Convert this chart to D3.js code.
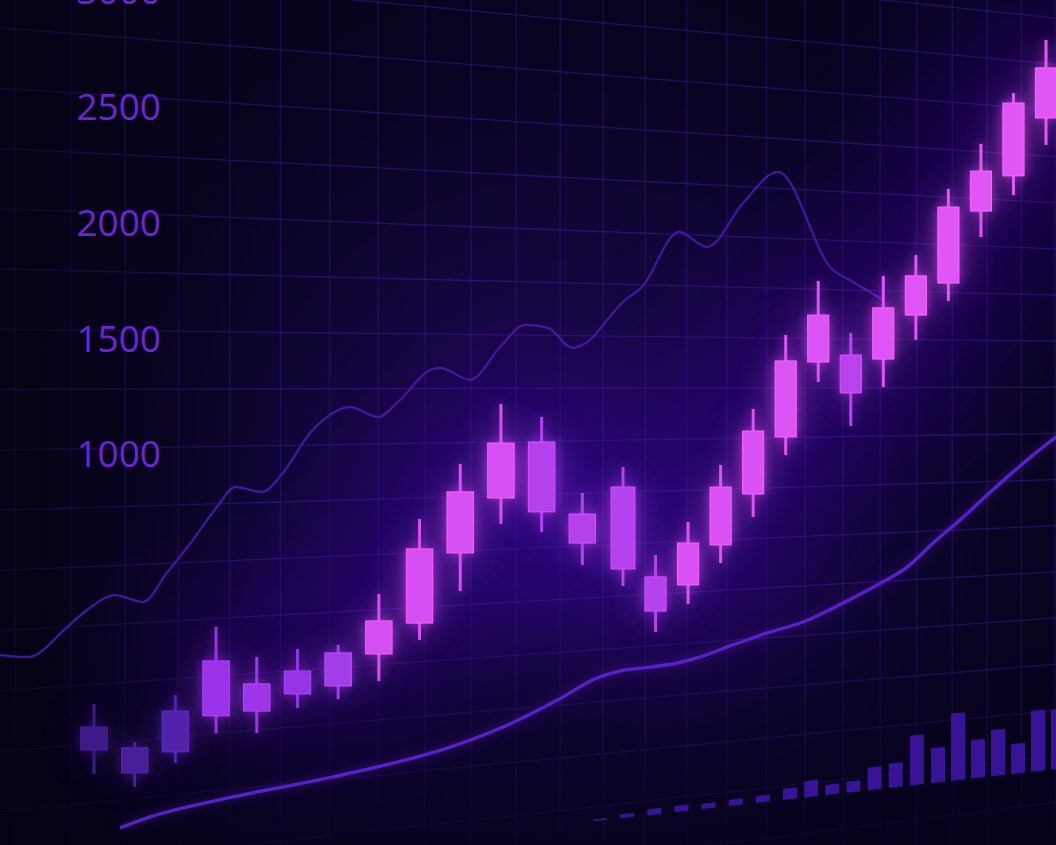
<!DOCTYPE html>
<html><head><meta charset="utf-8">
<script src="https://cdn.jsdelivr.net/npm/d3@7"></script>
<style>html,body{margin:0;padding:0;background:#07031d;overflow:hidden}</style>
</head><body><svg id="c" width="1056" height="845"></svg>
<script>
// ---------------- data ----------------
const axisTicks = [1000, 1500, 2000, 2500, 3000];
// candlesticks (27 sessions)
const candleOpen  = [300, 214, 293, 428, 446, 596, 540, 660, 776, 1039, 1245, 1455, 1185, 1286, 949, 919, 1069, 1260, 1474, 1755, 1781, 1766, 1931, 2051, 2321, 2453, 2670];
const candleHigh  = [473, 330, 506, 761, 649, 679, 694, 885, 1166, 1373, 1598, 1549, 1264, 1361, 1031, 1155, 1369, 1579, 1856, 2059, 1864, 2078, 2156, 2404, 2573, 2764, 2963];
const candleLow   = [210, 161, 251, 364, 364, 458, 491, 559, 713, 896, 1148, 1118, 994, 915, 743, 848, 1001, 1174, 1406, 1680, 1515, 1661, 1838, 1984, 2224, 2381, 2569];
const candleClose = [386, 308, 446, 634, 548, 510, 664, 784, 1054, 1268, 1451, 1193, 1076, 979, 821, 1076, 1286, 1496, 1759, 1931, 1639, 1958, 2078, 2336, 2471, 2726, 2858];
// upper thin line (t = session position, v = value)
const upperT = [-2.31, -1.62, -0.66, -0.17, 0.52, 1.20, 1.79, 2.43, 3.02, 3.47, 4.13, 4.64, 5.31, 5.63, 6.29, 6.98, 7.52, 8.26, 8.50, 9.24, 9.98, 10.59, 11.16, 11.75, 12.19, 12.61, 13.00, 13.58, 14.72, 15.58, 16.69, 17.76, 19.42, 20.07, 20.99];
const upperV = [656, 649, 761, 825, 881, 855, 964, 1088, 1211, 1286, 1268, 1339, 1489, 1538, 1586, 1549, 1613, 1725, 1733, 1688, 1811, 1894, 1883, 1808, 1838, 1913, 1980, 2036, 2243, 2186, 2351, 2468, 2104, 2055, 1988];
// lower moving-average line
const lowerT = [0.64, 1.38, 3.42, 5.87, 8.75, 10.17, 11.40, 12.36, 12.91, 13.83, 14.81, 15.37, 16.38, 17.43, 18.53, 19.76, 20.81, 21.73, 22.53, 23.36, 24.19, 24.99, 25.60, 26.31, 26.74];
const lowerV = [8, 49, 124, 199, 311, 394, 488, 570, 596, 611, 630, 649, 694, 739, 780, 851, 919, 986, 1076, 1163, 1256, 1343, 1406, 1474, 1515];
// volume bars
const volume = [20, 45, 65, 70, 60, 70, 80, 130, 190, 120, 130, 270, 290, 600, 420, 820, 470, 570, 370, 760, 750];

// ---------------- setup ----------------
const W = 1056, H = 845;
const svg = d3.select("#c");
const defs = svg.append("defs");

// perspective plane (vanishing point far right)
const VX = 4500, VY = 380, XREF = 180;
const kx = x => (VX - x) / (VX - XREF);
const proj = (x, q) => VY + (q - VY) * kx(x);
const colX = i => VX - (VX - 15) / (1 + i * 0.012579);

// scales
const yAxis = d3.scaleLinear().domain([1000, 3000]).range([447, -16]);
const xC = d3.scaleLinear().domain([0, 13, 26]).range([94, 623, 1046]);
const yPrice = d3.scaleLinear().domain([0, 3000]).range([830, 30]);
const xV = d3.scaleLinear().domain([0, 7, 14, 20]).range([600, 790, 938, 1058]);
const volH = d3.scaleLinear().domain([0, 1000]).range([0, 100]);
const VOL_BASE = 868;

const candles = candleOpen.map((o, i) => ({i, o, h: candleHigh[i], l: candleLow[i], c: candleClose[i]}));
const baseCol = d3.scaleLinear().domain([0, 2, 3, 6, 7, 26])
  .range(["#3d1a88", "#5222aa", "#9a32e8", "#a23ee8", "#d44ef2", "#e156f6"]).interpolate(d3.interpolateRgb);
const candleColor = d => d.c >= d.o ? baseCol(d.i) : d3.interpolateRgb(baseCol(d.i), "#8a2fe4")(0.45);

// filters / gradients
function blurFilter(id, sd) {
  const f = defs.append("filter").attr("id", id).attr("filterUnits", "userSpaceOnUse")
    .attr("x", -300).attr("y", -300).attr("width", 1700).attr("height", 1500);
  f.append("feGaussianBlur").attr("stdDeviation", sd);
}
blurFilter("haze", 60);
blurFilter("glow1", 6);
blurFilter("glow2", 18);

const rg = defs.append("radialGradient").attr("id", "bgGlow").attr("gradientUnits", "userSpaceOnUse")
  .attr("cx", 560).attr("cy", 500).attr("r", 560);
rg.append("stop").attr("offset", 0).attr("stop-color", "#240a66").attr("stop-opacity", 0.9);
rg.append("stop").attr("offset", 0.55).attr("stop-color", "#14063f").attr("stop-opacity", 0.6);
rg.append("stop").attr("offset", 1).attr("stop-color", "#07031d").attr("stop-opacity", 0);

const vg = defs.append("linearGradient").attr("id", "bottomFade").attr("x1", 0).attr("y1", 0).attr("x2", 0).attr("y2", 1);
vg.append("stop").attr("offset", 0.7).attr("stop-color", "#05021a").attr("stop-opacity", 0);
vg.append("stop").attr("offset", 1).attr("stop-color", "#05021a").attr("stop-opacity", 0.75);

const lg = defs.append("linearGradient").attr("id", "leftFade").attr("x1", 0).attr("y1", 0).attr("x2", 1).attr("y2", 0);
lg.append("stop").attr("offset", 0).attr("stop-color", "#04020f").attr("stop-opacity", 0.55);
lg.append("stop").attr("offset", 0.25).attr("stop-color", "#04020f").attr("stop-opacity", 0);

// ---------------- background ----------------
svg.append("rect").attr("width", W).attr("height", H).attr("fill", "#07031d");
svg.append("rect").attr("width", W).attr("height", H).attr("fill", "url(#bgGlow)");

// haze along the candle trend
const hazeLine = d3.line().x(d => xC(d.i)).y(d => yPrice((d.h + d.l) / 2)).curve(d3.curveBasis);
svg.append("path").attr("d", hazeLine(candles.slice(3))).attr("fill", "none")
  .attr("stroke", "#3a10a8").attr("stroke-opacity", 0.4).attr("stroke-width", 190)
  .attr("stroke-linecap", "round").attr("filter", "url(#haze)");

// ---------------- grid ----------------
const grid = svg.append("g").attr("stroke", "#421a9e").attr("stroke-opacity", 0.5).attr("stroke-width", 1.3);
d3.range(-1500, 3501, 250).forEach(v => {
  const q = yAxis(v);
  grid.append("line").attr("x1", -10).attr("x2", W + 10)
    .attr("y1", proj(-10, q)).attr("y2", proj(W + 10, q));
});
d3.range(-1, 26).forEach(i => {
  const x = colX(i);
  grid.append("line").attr("x1", x).attr("x2", x).attr("y1", 0).attr("y2", H).attr("stroke-opacity", 0.38);
});
svg.append("rect").attr("width", W).attr("height", H).attr("fill", "url(#bottomFade)");
svg.append("rect").attr("width", W).attr("height", H).attr("fill", "url(#leftFade)");

// ---------------- axis labels ----------------
const ax = svg.append("g").attr("transform", "translate(161,8)")
  .call(d3.axisLeft(yAxis).tickValues(axisTicks).tickSize(0).tickPadding(0).tickFormat(d3.format("d")));
ax.select(".domain").remove();
ax.selectAll("text").attr("fill", "#6b25d5").attr("font-family", "'Open Sans', sans-serif")
  .attr("font-size", 37).attr("font-weight", 400);

// ---------------- lines ----------------
const upper = upperT.map((t, j) => ({t, v: upperV[j]}));
const lower = lowerT.map((t, j) => ({t, v: lowerV[j]}));
const line = d3.line().x(d => xC(d.t)).y(d => yPrice(d.v)).curve(d3.curveMonotoneX);
svg.append("path").attr("d", line(upper)).attr("fill", "none")
  .attr("stroke", "#4a19ad").attr("stroke-width", 2.2).attr("stroke-opacity", 0.9);
svg.append("path").attr("d", line(lower)).attr("fill", "none")
  .attr("stroke", "#7a2ef0").attr("stroke-width", 6).attr("stroke-opacity", 0.25).attr("filter", "url(#glow1)");
svg.append("path").attr("d", line(lower)).attr("fill", "none")
  .attr("stroke", "#5a1fcc").attr("stroke-width", 3.4);

// ---------------- volume bars ----------------
const vols = volume.map((v, j) => ({j, v}));
svg.append("g").selectAll("path").data(vols).join("path")
  .attr("d", d => {
    const xc = xV(d.j), hw = 7;
    const x1 = xc - hw, x2 = xc + hw, qt = VOL_BASE - volH(d.v);
    return `M${x1},${proj(x1, VOL_BASE)}L${x2},${proj(x2, VOL_BASE)}L${x2},${proj(x2, qt)}L${x1},${proj(x1, qt)}Z`;
  })
  .attr("fill", "#3b149e").attr("fill-opacity", 0.95);

// ---------------- candles ----------------
const cw = i => 0.65 * (xC(i + 0.5) - xC(i - 0.5));
function drawCandles(g, extra) {
  const cg = g.selectAll("g").data(candles).join("g");
  cg.append("rect")
    .attr("x", d => xC(d.i) - 1.5).attr("width", 3)
    .attr("y", d => yPrice(d.h)).attr("height", d => yPrice(d.l) - yPrice(d.h))
    .attr("fill", candleColor);
  cg.append("rect")
    .attr("x", d => xC(d.i) - cw(d.i) / 2).attr("width", d => cw(d.i))
    .attr("y", d => yPrice(Math.max(d.o, d.c)))
    .attr("height", d => Math.max(1, yPrice(Math.min(d.o, d.c)) - yPrice(Math.max(d.o, d.c))))
    .attr("fill", candleColor)
    .attr("stroke", extra ? d => d3.color(candleColor(d)).brighter(0.5) : "none")
    .attr("stroke-width", 1);
}
const bloom = svg.append("g").attr("filter", "url(#glow2)").attr("opacity", 0.55);
drawCandles(bloom, false);
const glow = svg.append("g").attr("filter", "url(#glow1)").attr("opacity", 0.6);
drawCandles(glow, false);
drawCandles(svg.append("g"), true);
</script></body></html>
